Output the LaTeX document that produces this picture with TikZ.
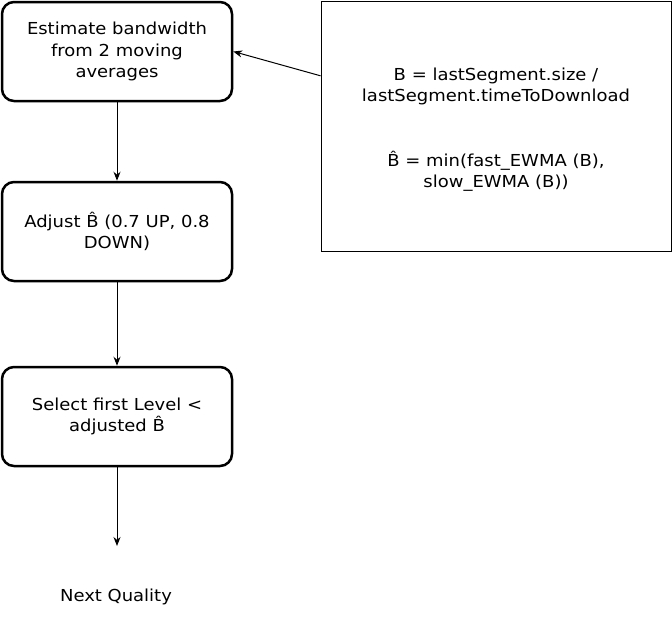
\documentclass[tikz,border=0pt]{standalone}
\usepackage{fontspec}
\setmainfont[FakeStretch=1.09]{DejaVu Sans}
\usetikzlibrary{arrows.meta,calc}
\begin{document}
\begin{tikzpicture}[x=1pt,y=-1pt,
  txt/.style={font=\fontsize{16.5}{21.5}\selectfont},
  stepbox/.style={txt, draw, rounded corners=12pt, line width=2.5pt, minimum width=230pt, minimum height=99pt, align=center, inner sep=0pt},
  notebox/.style={draw, line width=1pt, minimum width=350pt, minimum height=250pt, inner sep=0pt},
  plain/.style={txt, align=center, inner sep=0pt},
  conn/.style={line width=1pt, -{Stealth[length=9pt,width=7pt]}}]
\useasboundingbox (0,0) rectangle (672,643);
\node[stepbox] (b1) at (117,51.5) {Estimate bandwidth\\from 2 moving\\averages};
\node[stepbox] (b2) at (117,231.5) {Adjust B̂ (0.7 UP, 0.8\\DOWN)};
\node[stepbox] (b3) at (117,416.5) {Select first Level <\\adjusted B̂};
\node[notebox] (rb) at (496,126) {};
\node[plain] (rbt) at ($(rb.center)+(0,3.5)$) {B = lastSegment.size /\\lastSegment.timeToDownload\\[43pt]B̂ = min(fast\_EWMA (B),\\slow\_EWMA (B))};
\node[plain] (nq) at (116,597) {Next Quality};
\coordinate (e3) at (117,546);
\coordinate (rs) at ($(rb.north west)!0.3!(rb.south west)$);
\draw[conn] (b1) -- (b2);
\draw[conn] (b2) -- (b3);
\draw[conn] (b3) -- (e3);
\draw[conn] (rs) -- (b1.east);
\end{tikzpicture}
\end{document}
